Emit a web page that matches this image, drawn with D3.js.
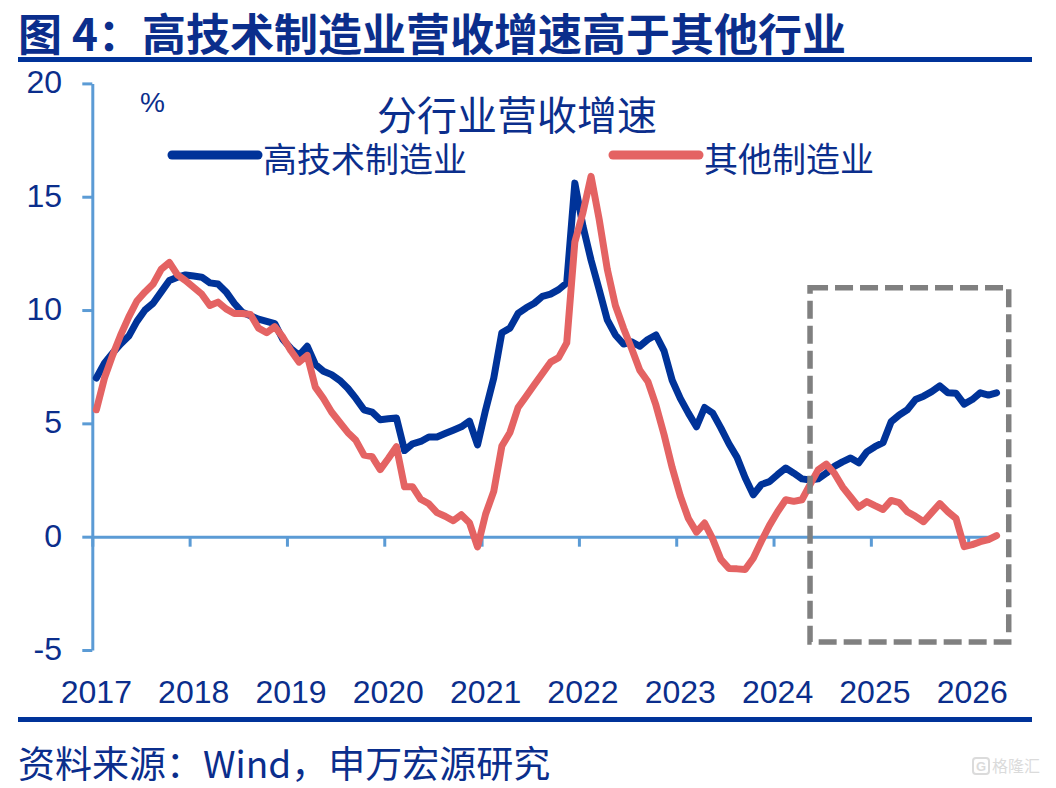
<!DOCTYPE html>
<html><head><meta charset="utf-8">
<script src="https://cdn.jsdelivr.net/npm/d3@7"></script>
<style>body{margin:0;background:#fff}svg{display:block}</style>
</head><body><svg id="c" width="1056" height="788"></svg>
<script>
const yearLabels = ["2017","2018","2019","2020","2021","2022","2023","2024","2025","2026"];
const yTicks = [-5, 0, 5, 10, 15, 20];
const seriesNames = ["高技术制造业", "其他制造业"];
const hiTech = [
  7.0, 7.65, 8.1, 8.5, 8.85, 9.5, 10.0, 10.3, 10.8, 11.3,
  11.45, 11.55, 11.5, 11.45, 11.2, 11.15, 10.8, 10.3, 9.9, 9.75,
  9.6, 9.5, 9.4, 8.7, 8.3, 8.0, 8.4, 7.6, 7.3, 7.15,
  6.9, 6.55, 6.1, 5.6, 5.5, 5.16, 5.2, 5.24, 3.8, 4.1,
  4.2, 4.4, 4.4, 4.55, 4.7, 4.85, 5.1, 4.05, 5.6, 7.0,
  9.0, 9.2, 9.85, 10.1, 10.3, 10.6, 10.7, 10.9, 11.2, 15.6,
  13.7, 12.2, 10.9, 9.57, 8.9, 8.5, 8.6, 8.4, 8.7, 8.9,
  8.2, 6.9, 6.1, 5.45, 4.85, 5.7, 5.45, 4.8, 4.1, 3.5,
  2.6, 1.85, 2.3, 2.43, 2.74, 3.03, 2.8, 2.55, 2.5, 2.55,
  2.8, 3.1, 3.3, 3.47, 3.26, 3.74, 3.97, 4.15, 5.07, 5.37,
  5.6, 6.05, 6.2, 6.4, 6.65, 6.35, 6.33, 5.85, 6.05, 6.35,
  6.25, 6.35
];
const otherMfg = [
  5.6, 7.0, 8.0, 8.9, 9.7, 10.4, 10.8, 11.15, 11.8, 12.1,
  11.55, 11.3, 11.0, 10.7, 10.2, 10.35, 10.05, 9.85, 9.85, 9.8,
  9.2, 9.0, 9.27, 8.8, 8.2, 7.7, 8.0, 6.6, 6.1, 5.5,
  5.05, 4.6, 4.25, 3.6, 3.53, 2.96, 3.45, 3.97, 2.2, 2.2,
  1.65, 1.45, 1.06, 0.9, 0.7, 0.97, 0.62, -0.45, 1.0, 2.0,
  4.0, 4.6, 5.7, 6.2, 6.7, 7.2, 7.7, 7.9, 8.55, 13.0,
  14.3, 15.9, 14.0, 11.8, 10.2, 9.2, 8.3, 7.35, 6.85, 5.8,
  4.5, 3.05, 1.8, 0.8, 0.2, 0.6, -0.1, -1.0, -1.4, -1.42,
  -1.45, -0.95, -0.2, 0.5, 1.1, 1.63, 1.56, 1.63, 2.3, 2.95,
  3.2, 2.8, 2.2, 1.75, 1.3, 1.55, 1.37, 1.2, 1.6, 1.5,
  1.1, 0.9, 0.66, 1.06, 1.46, 1.1, 0.8, -0.44, -0.35, -0.22,
  -0.13, 0.05
];
// highlighted window (month index range, value range)
const boxRange = {i0: 88.5, i1: 113, v0: -4.65, v1: 10.98};

const NAVY = "#0b2e8c", AXIS = "#5b9bd5", BLUE = "#003399", RED = "#e46363";
const CJK = "'Noto Sans CJK SC','Noto Sans',sans-serif";
const LAT = "'Liberation Sans',Arial,sans-serif";

const svg = d3.select("#c");
svg.append("rect").attr("width",1056).attr("height",788).attr("fill","#fff");

// header
svg.append("text").attr("x",18).attr("y",32).attr("dominant-baseline","central")
  .attr("font-family",CJK).attr("font-weight","bold").attr("font-size",44).attr("fill",NAVY)
  .text("图 4：高技术制造业营收增速高于其他行业");
svg.append("rect").attr("x",18).attr("y",57).attr("width",1014).attr("height",5).attr("fill","#003399");
svg.append("rect").attr("x",18).attr("y",717).attr("width",1014).attr("height",5).attr("fill","#003399");
svg.append("text").attr("x",18).attr("y",762).attr("dominant-baseline","central")
  .attr("font-family",CJK).attr("font-size",37).attr("fill",NAVY)
  .text("资料来源：Wind，申万宏源研究");

// scales
const x = d3.scaleLinear().domain([0, 111]).range([92.3, 92.3 + 111 * 8.11]);
const y = d3.scaleLinear().domain([-5, 20]).range([650, 83.4]);

// y axis
const yAxis = svg.append("g").attr("transform", `translate(${x(0)},0)`)
  .call(d3.axisLeft(y).tickValues(yTicks).tickSize(10).tickSizeOuter(0).tickFormat(""));
yAxis.selectAll("path,line").attr("stroke", AXIS).attr("stroke-width", 3);
yAxis.selectAll("text").remove();
svg.append("g").selectAll("text").data(yTicks).join("text")
  .attr("x", 62).attr("y", d => y(d) + 10).attr("text-anchor","end")
  .attr("font-family",LAT).attr("font-size",32).attr("fill",NAVY).text(d => d);

// x axis at zero
const xTickIdx = yearLabels.map((_, k) => k * 12);
const xAxis = svg.append("g").attr("transform", `translate(0,${y(0)})`)
  .call(d3.axisBottom(x).tickValues(xTickIdx).tickSize(10).tickSizeOuter(0).tickFormat(""));
xAxis.selectAll("path,line").attr("stroke", AXIS).attr("stroke-width", 3);
svg.append("g").selectAll("text").data(yearLabels).join("text")
  .attr("x", (d, k) => x(k * 12 + 0.5)).attr("y", 703).attr("text-anchor","middle")
  .attr("font-family",LAT).attr("font-size",32).attr("fill",NAVY).text(d => d);

// unit + chart title
svg.append("text").attr("x",140).attr("y",112).attr("font-family",LAT).attr("font-size",28)
  .attr("fill",NAVY).text("%");
svg.append("text").attr("x",517).attr("y",113).attr("text-anchor","middle").attr("dominant-baseline","central")
  .attr("font-family",CJK).attr("font-size",40).attr("fill",NAVY).text("分行业营收增速");

// legend
const legend = [
  {name: seriesNames[0], color: BLUE, x0: 172},
  {name: seriesNames[1], color: RED, x0: 613}
];
legend.forEach(l => {
  svg.append("line").attr("x1", l.x0).attr("x2", l.x0 + 86).attr("y1",155).attr("y2",155)
    .attr("stroke", l.color).attr("stroke-width", 9).attr("stroke-linecap","round");
  svg.append("text").attr("x", l.x0 + 91).attr("y",157).attr("dominant-baseline","central")
    .attr("font-family",CJK).attr("font-size",34).attr("fill",NAVY).text(l.name);
});

// lines
const line = d3.line().x((d, i) => x(i + 0.5)).y(d => y(d));
[[hiTech, BLUE], [otherMfg, RED]].forEach(([data, color]) => {
  svg.append("path").datum(data).attr("d", line).attr("fill","none")
    .attr("stroke", color).attr("stroke-width", 7)
    .attr("stroke-linejoin","round").attr("stroke-linecap","round");
});

// dashed highlight box
svg.append("rect")
  .attr("x", x(boxRange.i0)).attr("y", y(boxRange.v1))
  .attr("width", x(boxRange.i1) - x(boxRange.i0)).attr("height", y(boxRange.v0) - y(boxRange.v1))
  .attr("fill","none").attr("stroke","#808080").attr("stroke-width",5.5).attr("stroke-dasharray","18,7");

// watermark
const wm = svg.append("g").attr("opacity",0.45);
wm.append("rect").attr("x",973).attr("y",758).attr("width",16).attr("height",16).attr("rx",3)
  .attr("fill","none").attr("stroke","#b0b0b0").attr("stroke-width",2);
wm.append("text").attr("x",981).attr("y",771).attr("text-anchor","middle").attr("font-family",LAT)
  .attr("font-size",13).attr("font-weight","bold").attr("fill","#b0b0b0").text("G");
wm.append("text").attr("x",992).attr("y",772).attr("font-family",CJK).attr("font-size",16)
  .attr("fill","#b0b0b0").text("格隆汇");
</script>
</body></html>
